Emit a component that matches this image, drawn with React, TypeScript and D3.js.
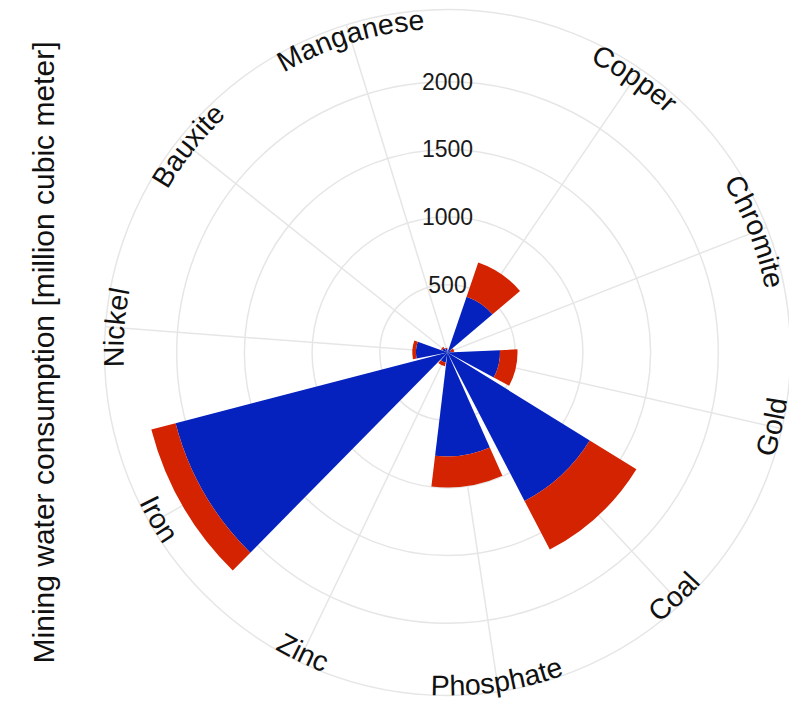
import React from "react";
import * as d3 from "d3";

const categories = ["Copper", "Chromite", "Gold", "Coal", "Phosphate", "Zinc", "Iron", "Nickel", "Bauxite", "Manganese"];
const blueValues = [436, 25, 388, 1235, 768, 75, 2075, 233, 42, 28];
const redValues = [266, 25, 129, 405, 229, 28, 185, 27, 10, 8];
const gridBreaks = [500, 1000, 1500, 2000];
const tickLabels = ["500", "1000", "1500", "2000"];
const yTitle = "Mining water consumption [million cubic meter]";

const W = 789;
const H = 701;
const CX = 447.5;
const CY = 352.5;
const R_OUT = 343;
const BLUE = "#0521BE";
const RED = "#D42300";
const GRID = "#e6e6e6";
const FONT = "'Liberation Sans', Arial, Helvetica, sans-serif";

export default function App() {
  const r = d3.scaleLinear().domain([0, 2533]).range([0, R_OUT]);
  const theta = d3
    .scaleLinear()
    .domain([0, categories.length + 0.5])
    .range([0, 2 * Math.PI]);
  const arc = d3.arc<any>();
  const pt = (a: number, rad: number) => [CX + rad * Math.sin(a), CY - rad * Math.cos(a)];
  const halfW = 0.45;

  const labelPath = (a: number) => {
    const deg = (a * 180) / Math.PI;
    const top = deg < 90 || deg > 270;
    const span = (60 * Math.PI) / 180;
    if (top) {
      const rad = 324;
      const [x0, y0] = pt(a - span, rad);
      const [x1, y1] = pt(a + span, rad);
      return `M${x0},${y0} A${rad},${rad} 0 0 1 ${x1},${y1}`;
    } else {
      const rad = 343;
      const [x0, y0] = pt(a + span, rad);
      const [x1, y1] = pt(a - span, rad);
      return `M${x0},${y0} A${rad},${rad} 0 0 0 ${x1},${y1}`;
    }
  };

  return (
    <svg
      width={W}
      height={H}
      viewBox={`0 0 ${W} ${H}`}
      style={{ position: "absolute", left: 0, top: 0, background: "#fff" }}
      fontFamily={FONT}
    >
      <rect x={0} y={0} width={W} height={H} fill="#fff" />
      {gridBreaks.map((b) => (
        <circle key={b} cx={CX} cy={CY} r={r(b)} fill="none" stroke={GRID} strokeWidth={1.5} />
      ))}
      <circle cx={CX} cy={CY} r={R_OUT} fill="none" stroke={GRID} strokeWidth={1.5} />
      {categories.map((c, i) => {
        const a = theta(i + 1);
        const [x, y] = pt(a, R_OUT);
        return <line key={c} x1={CX} y1={CY} x2={x} y2={y} stroke={GRID} strokeWidth={1.5} />;
      })}
      <g transform={`translate(${CX},${CY})`}>
        {categories.map((c, i) => {
          const s = theta(i + 1 - halfW);
          const e = theta(i + 1 + halfW);
          const b = blueValues[i];
          const t = b + redValues[i];
          return (
            <g key={c}>
              <path
                d={arc({ innerRadius: 0, outerRadius: r(b), startAngle: s, endAngle: e }) as string}
                fill={BLUE}
              />
              <path
                d={arc({ innerRadius: r(b), outerRadius: r(t), startAngle: s, endAngle: e }) as string}
                fill={RED}
              />
            </g>
          );
        })}
      </g>
      {gridBreaks.map((b, i) => (
        <text
          key={b}
          x={CX}
          y={CY - r(b)}
          textAnchor="middle"
          dominantBaseline="central"
          fontSize={23}
          fill="#1a1a1a"
        >
          {tickLabels[i]}
        </text>
      ))}
      <defs>
        {categories.map((c, i) => (
          <path key={c} id={`lab-${i}`} d={labelPath(theta(i + 1))} fill="none" />
        ))}
      </defs>
      {categories.map((c, i) => (
        <text key={c} fontSize={28.5} fill="#111">
          <textPath href={`#lab-${i}`} startOffset="50%" textAnchor="middle">
            {c}
          </textPath>
        </text>
      ))}
      <text
        transform={`translate(53.5,${CY}) rotate(-90)`}
        textAnchor="middle"
        fontSize={30}
        fill="#111"
      >
        {yTitle}
      </text>
    </svg>
  );
}
